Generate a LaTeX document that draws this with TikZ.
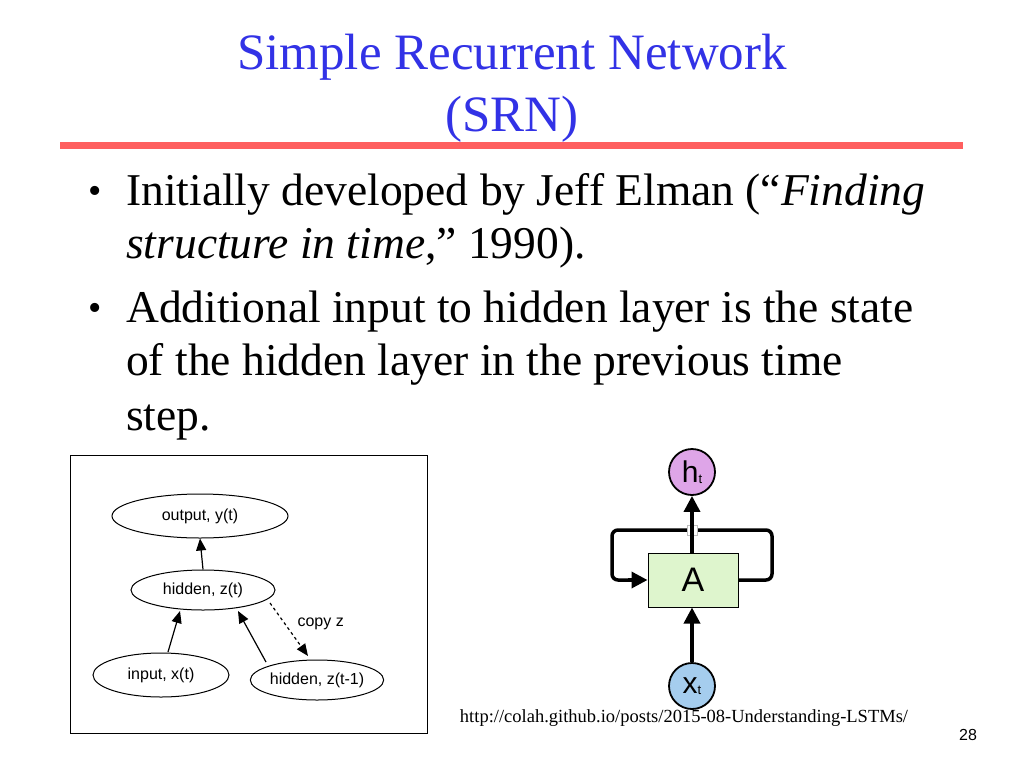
\documentclass[tikz,border=0pt]{standalone}
\usepackage{fontspec}
\setmainfont{Liberation Serif}
\newfontfamily\arial{Liberation Sans}
\usetikzlibrary{shapes.geometric,arrows.meta}
\definecolor{ttl}{RGB}{50,50,230}
\definecolor{rline}{RGB}{255,95,95}
\definecolor{hpur}{RGB}{222,165,232}
\definecolor{xblu}{RGB}{165,205,238}
\definecolor{agrn}{RGB}{222,245,205}
\tikzset{
 ell/.style={draw,ellipse,line width=1pt,inner sep=0pt,font=\arial\fontsize{16}{18}\selectfont},
 sarr/.style={line width=1.2pt,-{Triangle[length=12pt,width=10pt]}},
 bul/.style={anchor=base west,font=\fontsize{45.5}{52}\selectfont,inner sep=0pt},
 crc/.style={circle,draw,line width=1.8pt,minimum size=46pt,inner sep=0pt,font=\arial\fontsize{30}{30}\selectfont},
 big/.style={line width=3.5pt,-{Triangle[length=16pt,width=16pt]}}
}
\begin{document}
\begin{tikzpicture}[x=1pt,y=-1pt]
\useasboundingbox (0,0) rectangle (1024,768);
\fill[white] (0,0) rectangle (1024,768);
\node[ttl,font=\fontsize{51}{56}\selectfont,anchor=base] (t1) at (512,70) {Simple Recurrent Network};
\node[ttl,font=\fontsize{51}{56}\selectfont,anchor=base] (t2) at (512,131) {(SRN)};
\draw[rline,line width=7pt] (60,145) -- (963,145);
\node[bul,font=\fontsize{38}{40}\selectfont] (b1) at (88,203) {\textbullet};
\node[bul] (l1) at (126,205) {Initially developed by Jeff Elman (“\textit{Finding}};
\node[bul] (l2) at (126,258) {\textit{structure in time},” 1990).};
\node[bul,font=\fontsize{38}{40}\selectfont] (b2) at (88,320) {\textbullet};
\node[bul] (l3) at (126,322) {Additional input to hidden layer is the state};
\node[bul] (l4) at (126,375) {of the hidden layer in the previous time};
\node[bul] (l5) at (126,430) {step.};
% left diagram
\draw[line width=1pt] (70,455) rectangle (427,733);
\node[ell,minimum width=176pt,minimum height=44pt] (out) at (200,516) {output, y(t)};
\node[ell,minimum width=144pt,minimum height=40pt] (hid) at (203,590) {hidden, z(t)};
\node[ell,minimum width=136pt,minimum height=44pt] (inp) at (161,675) {input, x(t)};
\node[ell,minimum width=124pt,minimum height=40pt] (hp) at (317,680) {hidden, z(t-1)};
\draw[sarr] (hid.north) -- (out.south);
\draw[sarr] (168,652) -- (180,611);
\draw[sarr] (266,662) -- (238,611);
\draw[sarr,dashed] (270,603) -- (308,656);
\node[font=\arial\fontsize{16}{18}\selectfont,anchor=west] (cz) at (294,624) {copy z};
% right diagram
\node[crc,fill=hpur] (h) at (692,472) {h\raisebox{-1pt}{\fontsize{13}{13}\selectfont t}};
\node[draw,fill=agrn,line width=1pt,minimum width=90pt,minimum height=54pt,font=\arial\fontsize{34}{34}\selectfont] (A) at (693,580) {A};
\node[crc,fill=xblu] (x) at (692,686) {x\raisebox{-1pt}{\fontsize{13}{13}\selectfont t}};
\draw[big,rounded corners=6pt,-] (A.east) -- (772,580) -- (772,530) -- (612,530) -- (612,580) -- (630,580);
\draw[big] (628,580) -- (A.west);
\fill[white,draw=gray!50,line width=0.5pt] (687,525) rectangle (697,535);
\draw[big] (A.north -| h) -- (h.south);
\draw[big] (x.north) -- (A.south -| x);
\node[font=\fontsize{18.5}{20}\selectfont] (url) at (684,718) {http://colah.github.io/posts/2015-08-Understanding-LSTMs/};
\node[font=\arial\fontsize{16}{18}\selectfont] (pg) at (968,735) {28};
\end{tikzpicture}
\end{document}
